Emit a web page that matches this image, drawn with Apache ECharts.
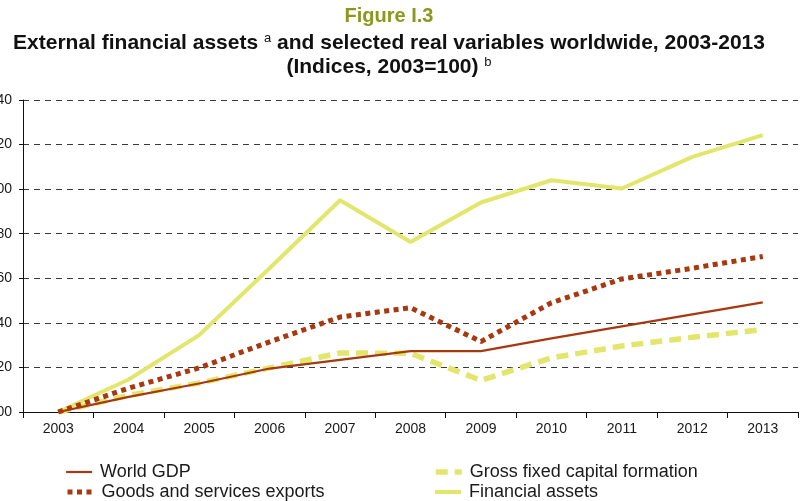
<!DOCTYPE html>
<html>
<head>
<meta charset="utf-8">
<script src="https://cdn.jsdelivr.net/npm/echarts@6/dist/echarts.min.js"></script>
<style>
  html, body { margin: 0; padding: 0; background: #ffffff; }
  #chart { width: 800px; height: 501px; }
</style>
</head>
<body>
<div id="chart"></div>
<script>
// Indices, 2003 = 100
const years = ['2003', '2004', '2005', '2006', '2007', '2008', '2009', '2010', '2011', '2012', '2013'];
const worldGdp = [100, 106.8, 112.8, 119.5, 123.4, 127.3, 127.3, 133.0, 138.4, 143.8, 149.2];
const goodsServicesExports = [100, 110.7, 119.8, 131.5, 142.6, 146.8, 131.6, 149.0, 159.7, 164.5, 169.8];
const grossFixedCapital = [100, 107.5, 113.0, 119.8, 126.5, 126.3, 114.2, 124.3, 129.6, 133.5, 137.0];
const financialAssets = [100, 114.6, 134.5, 164.5, 195.0, 176.3, 194.0, 204.0, 200.3, 214.5, 224.2];

const BROWN = '#a8380f';
const YELLOW = '#e3e66c';
const FONT = '"Liberation Sans", Arial, Helvetica, sans-serif';

// one legend entry per block so each sits in its own column/row
function legendEntry(name, left, top) {
  return {
    data: [name],
    left: left, top: top,
    itemWidth: 26, itemHeight: 12,
    itemStyle: { opacity: 0, borderWidth: 0 },
    lineStyle: { width: 'inherit', type: 'inherit', cap: 'butt' },
    textStyle: { fontFamily: FONT, fontSize: 18, color: '#1a1a1a', padding: [0, 0, 0, 3] }
  };
}

const chart = echarts.init(document.getElementById('chart'), null, { renderer: 'canvas' });

chart.setOption({
  animation: false,
  backgroundColor: '#ffffff',
  textStyle: { fontFamily: FONT },
  graphic: [
    {
      type: 'text', x: 389, y: 16,
      style: {
        text: 'Figure I.3', fill: '#8a991c',
        font: 'bold 20px ' + FONT,
        align: 'center', verticalAlign: 'middle'
      }
    },
    {
      type: 'text', x: 389, y: 43,
      style: {
        text: '{b|External financial assets }{s|a}{b| and selected real variables worldwide, 2003-2013}',
        align: 'center', verticalAlign: 'middle',
        rich: {
          b: { fontFamily: FONT, fontWeight: 'bold', fontSize: 21, fill: '#111111', color: '#111111' },
          s: { fontFamily: FONT, fontSize: 13, fill: '#111111', color: '#111111', padding: [0, 0, 9, 0] }
        }
      }
    },
    {
      type: 'text', x: 389, y: 67,
      style: {
        text: '{b|(Indices, 2003=100) }{s|b}',
        align: 'center', verticalAlign: 'middle',
        rich: {
          b: { fontFamily: FONT, fontWeight: 'bold', fontSize: 21, fill: '#111111', color: '#111111' },
          s: { fontFamily: FONT, fontSize: 13, fill: '#111111', color: '#111111', padding: [0, 0, 9, 0] }
        }
      }
    }
  ],
  grid: { left: 23, right: 2, top: 100, bottom: 89, containLabel: false, outerBoundsMode: 'none' },
  legend: [
    legendEntry('World GDP', 60, 458),
    legendEntry('Goods and services exports', 60, 478),
    legendEntry('Gross fixed capital formation', 428, 458),
    legendEntry('Financial assets', 428, 478)
  ],
  xAxis: {
    type: 'category',
    data: years,
    boundaryGap: true,
    axisLine: { lineStyle: { color: '#111111', width: 1 } },
    axisTick: { show: true, length: 6, lineStyle: { color: '#111111' } },
    axisLabel: { fontFamily: FONT, fontSize: 14, color: '#1a1a1a', margin: 10 },
    splitLine: { show: false }
  },
  yAxis: {
    type: 'value',
    min: 100, max: 240, interval: 20,
    axisLine: { show: true, lineStyle: { color: '#111111', width: 1 } },
    axisTick: { show: true, length: 4, lineStyle: { color: '#111111' } },
    axisLabel: { fontFamily: FONT, fontSize: 14, color: '#1a1a1a', margin: 11 },
    splitLine: { show: true, lineStyle: { color: '#3a3a3a', width: 1, type: [6, 5] } }
  },
  series: [
    {
      name: 'Gross fixed capital formation', type: 'line', data: grossFixedCapital,
      symbol: 'none', z: 2,
      lineStyle: { color: YELLOW, width: 5.5, type: [12, 7], cap: 'butt' },
      itemStyle: { color: YELLOW }
    },
    {
      name: 'Financial assets', type: 'line', data: financialAssets,
      symbol: 'none', z: 3,
      lineStyle: { color: YELLOW, width: 4 },
      itemStyle: { color: YELLOW }
    },
    {
      name: 'Goods and services exports', type: 'line', data: goodsServicesExports,
      symbol: 'none', z: 4,
      lineStyle: { color: BROWN, width: 5, type: [5, 4.5], cap: 'butt' },
      itemStyle: { color: BROWN }
    },
    {
      name: 'World GDP', type: 'line', data: worldGdp,
      symbol: 'none', z: 5,
      lineStyle: { color: BROWN, width: 2.2 },
      itemStyle: { color: BROWN }
    }
  ]
});
</script>
</body>
</html>
